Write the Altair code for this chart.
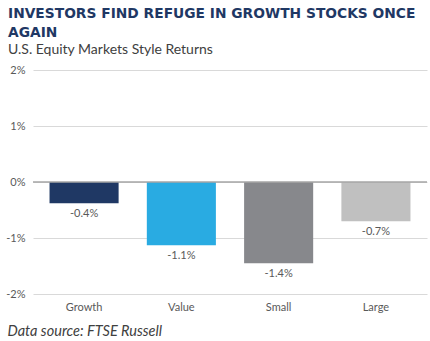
import altair as alt
import pandas as pd

categories = ["Growth", "Value", "Small", "Large"]
returns_pct = [-0.38, -1.13, -1.45, -0.70]
value_labels = ["-0.4%", "-1.1%", "-1.4%", "-0.7%"]
bar_colors = ["#1F3864", "#29ABE2", "#87888C", "#C0C0C0"]
y_ticks = [2, 1, 0, -1, -2]

df = pd.DataFrame({"cat": categories, "ret": returns_pct, "lab": value_labels})
zero_df = pd.DataFrame({"z": [0]})

FONT = "Lato"

x_enc = alt.X(
    "cat:N",
    sort=categories,
    scale=alt.Scale(paddingInner=0.29, paddingOuter=0.17),
    axis=alt.Axis(
        title="Data source: FTSE Russell",
        titleFont=FONT,
        titleFontStyle="italic",
        titleFontWeight="normal",
        titleFontSize=14.5,
        titleColor="#404040",
        titleAnchor="start",
        titleAlign="left",
        titleBaseline="alphabetic",
        titleX=-26,
        titleY=41,
        labelAngle=0,
        labelFont=FONT,
        labelFontSize=11,
        labelColor="#595959",
        labelPadding=7,
        domain=False,
        ticks=False,
        grid=False,
    ),
)

y_scale = alt.Scale(domain=[-2, 2], nice=False, zero=False)

bars = alt.Chart(df).mark_bar().encode(
    x=x_enc,
    y=alt.Y(
        "ret:Q",
        scale=y_scale,
        axis=alt.Axis(
            title=None,
            values=y_ticks,
            labelExpr="(datum.value < 0 ? '-' : '') + abs(datum.value) + '%'",
            labelFont=FONT,
            labelFontSize=11,
            labelColor="#595959",
            labelPadding=8,
            domain=False,
            ticks=False,
            grid=True,
            gridColor="#D9D9D9",
            gridWidth=1,
        ),
    ),
    color=alt.Color("cat:N", sort=categories,
                    scale=alt.Scale(domain=categories, range=bar_colors), legend=None),
)

labels = alt.Chart(df).mark_text(
    baseline="top", dy=5, font=FONT, fontSize=11, color="#595959"
).encode(
    x=alt.X("cat:N", sort=categories),
    y=alt.Y("ret:Q", scale=y_scale),
    text="lab:N",
)

zero = alt.Chart(zero_df).mark_rule(color="#A6A6A6", strokeWidth=1.5).encode(
    y=alt.Y("z:Q", scale=y_scale)
)

chart = alt.layer(bars, zero, labels).properties(
    width=394,
    height=224,
    autosize=alt.AutoSizeParams(type="none"),
    padding={"left": 33, "top": 70, "right": 3, "bottom": 47},
    title=alt.TitleParams(
        text=["INVESTORS FIND REFUGE IN GROWTH STOCKS ONCE", "AGAIN"],
        subtitle="U.S. Equity Markets Style Returns",
        anchor="start",
        frame="group",
        orient="top",
        dx=-25,
        offset=7,
        font="DejaVu Sans",
        fontSize=13.8,
        fontWeight="bold",
        color="#1F3864",
        lineHeight=19,
        subtitleFont=FONT,
        subtitleFontSize=14,
        subtitleColor="#404040",
        subtitlePadding=3,
    ),
).configure_view(stroke=None)

chart.save("out.html", embed_options={"renderer": "svg", "actions": False})
